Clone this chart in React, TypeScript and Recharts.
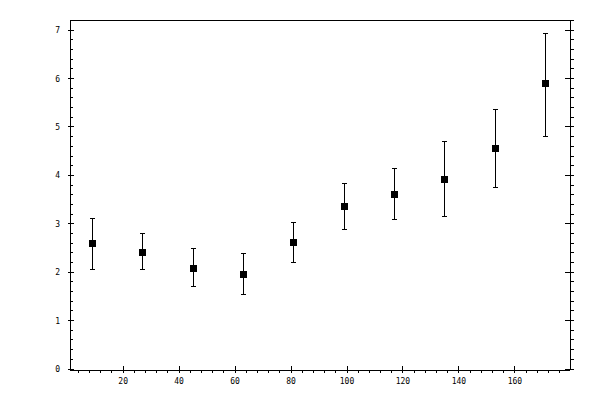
import { ScatterChart, Scatter, XAxis, YAxis, ErrorBar } from 'recharts';

// measurement positions (x) and mean values (y) with asymmetric errors
const xValues = [9, 27, 45, 63, 81, 99, 117, 135, 153, 171];
const yValues = [2.6, 2.41, 2.08, 1.96, 2.62, 3.36, 3.61, 3.92, 4.56, 5.89];
const errLow = [0.54, 0.35, 0.37, 0.43, 0.41, 0.47, 0.53, 0.76, 0.8, 1.08];
const errHigh = [0.51, 0.38, 0.4, 0.43, 0.41, 0.48, 0.53, 0.78, 0.8, 1.04];

const xMajorTicks = [20, 40, 60, 80, 100, 120, 140, 160];
const yMajorTicks = [0, 1, 2, 3, 4, 5, 6, 7];
const xMinorStep = 4;
const yMinorStep = 0.2;

const xDomain: [number, number] = [1, 179.7];
const yDomain: [number, number] = [-0.02, 7.21];

const data = xValues.map((x, i) => ({ x, y: yValues[i], err: [errLow[i], errHigh[i]] }));

const xTicks: number[] = [];
for (let v = xMinorStep; v < xDomain[1]; v += xMinorStep) xTicks.push(v);
const yTicks: number[] = [];
for (let i = 0; i * yMinorStep < yDomain[1]; i++) yTicks.push(Math.round(i * yMinorStep * 10) / 10);

const FONT = '"DejaVu Sans Mono", monospace';

function makeTick(side: 'left' | 'right' | 'top' | 'bottom') {
  return (props: any) => {
    const { x, y, payload } = props;
    const v = payload.value;
    const major = side === 'left' || side === 'right' ? yMajorTicks.includes(v) : xMajorTicks.includes(v);
    let line;
    let label = null;
    if (side === 'left') {
      line = major ? [x - 2.5, y, x + 4, y] : [x, y, x + 2.5, y];
      if (major)
        label = (
          <text x={x - 10} y={y + 3} textAnchor="end" fontSize={8} fontFamily={FONT} fill="#000">
            {v}
          </text>
        );
    } else if (side === 'right') {
      line = major ? [x - 5, y, x + 4, y] : [x, y, x + 4, y];
    } else if (side === 'top') {
      line = major ? [x, y - 4.5, x, y + 3.5] : [x, y - 3.5, x, y];
    } else {
      line = major ? [x, y - 3.7, x, y + 3.3] : [x, y, x, y + 2.5];
      if (major)
        label = (
          <text x={x} y={y + 13.5} textAnchor="middle" fontSize={8} fontFamily={FONT} fill="#000">
            {v}
          </text>
        );
    }
    return (
      <g>
        <line x1={line[0]} y1={line[1]} x2={line[2]} y2={line[3]} stroke="#000" strokeWidth={1} shapeRendering="crispEdges" />
        {label}
      </g>
    );
  };
}

const SquareMarker = (props: any) => {
  const { cx, cy } = props;
  return <rect x={cx - 3.5} y={cy - 3.5} width={7} height={7} fill="#000" shapeRendering="crispEdges" />;
};

const axisLine = { stroke: '#000', strokeWidth: 1, shapeRendering: 'crispEdges' };

export default function App() {
  return (
    <div style={{ position: 'absolute', left: 0, top: 0, background: '#fff' }}>
      <ScatterChart width={600} height={400} margin={{ top: 0, right: 0, bottom: 0, left: 0 }}>
        <XAxis
          xAxisId="bottom"
          dataKey="x"
          type="number"
          orientation="bottom"
          domain={xDomain}
          allowDataOverflow
          ticks={xTicks}
          interval={0}
          height={30}
          tickSize={0}
          tickMargin={0}
          tickLine={false}
          axisLine={axisLine}
          tick={makeTick('bottom')}
        />
        <XAxis
          xAxisId="top"
          type="number"
          orientation="top"
          domain={xDomain}
          allowDataOverflow
          ticks={xTicks}
          interval={0}
          height={20}
          tickSize={0}
          tickMargin={0}
          tickLine={false}
          axisLine={axisLine}
          tick={makeTick('top')}
        />
        <YAxis
          yAxisId="left"
          dataKey="y"
          type="number"
          orientation="left"
          domain={yDomain}
          allowDataOverflow
          ticks={yTicks}
          interval={0}
          width={70}
          tickSize={0}
          tickMargin={0}
          tickLine={false}
          axisLine={axisLine}
          tick={makeTick('left')}
        />
        <YAxis
          yAxisId="right"
          type="number"
          orientation="right"
          domain={yDomain}
          allowDataOverflow
          ticks={yTicks}
          interval={0}
          width={30}
          tickSize={0}
          tickMargin={0}
          tickLine={false}
          axisLine={axisLine}
          tick={makeTick('right')}
        />
        <Scatter
          data={data}
          xAxisId="bottom"
          yAxisId="left"
          fill="#000"
          shape={SquareMarker}
          isAnimationActive={false}
        >
          <ErrorBar
            dataKey="err"
            direction="y"
            width={2.5}
            stroke="#000"
            strokeWidth={1}
            shapeRendering="crispEdges"
            isAnimationActive={false}
          />
        </Scatter>
      </ScatterChart>
    </div>
  );
}
